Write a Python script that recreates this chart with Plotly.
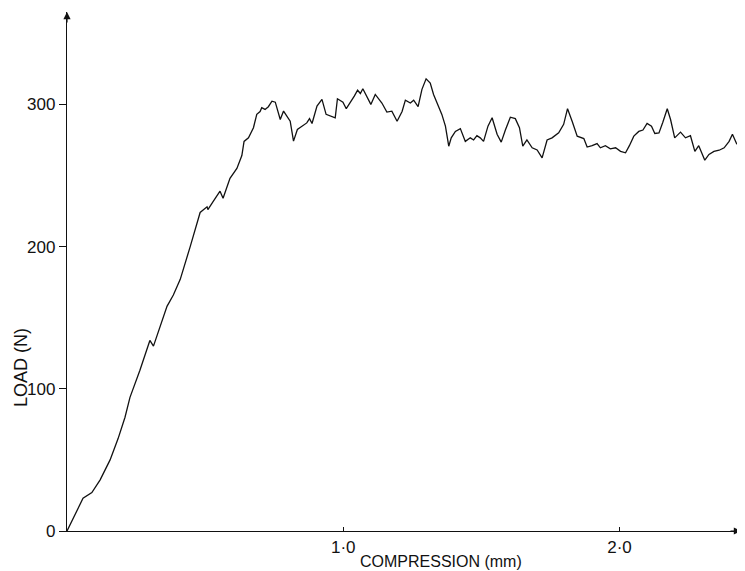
import plotly.graph_objects as go

compression_mm = [0, 0.03, 0.058, 0.09, 0.12, 0.156, 0.185, 0.21, 0.228, 0.264, 0.29, 0.30, 0.313,
                  0.335, 0.362, 0.385, 0.41, 0.446, 0.482, 0.507, 0.51, 0.53, 0.554, 0.565, 0.59,
                  0.615, 0.633, 0.641, 0.657, 0.675, 0.687, 0.699, 0.705, 0.717, 0.729, 0.742, 0.754,
                  0.772, 0.784, 0.808, 0.82, 0.834, 0.868, 0.878, 0.887, 0.905, 0.923, 0.938, 0.959,
                  0.971, 0.979, 0.999, 1.011, 1.025, 1.04, 1.052, 1.062, 1.071, 1.086, 1.1, 1.116,
                  1.14, 1.158, 1.176, 1.195, 1.213, 1.225, 1.243, 1.255, 1.271, 1.285, 1.3, 1.315,
                  1.327, 1.357, 1.37, 1.382, 1.391, 1.406, 1.424, 1.442, 1.46, 1.472, 1.484, 1.496,
                  1.508, 1.524, 1.539, 1.557, 1.572, 1.587, 1.605, 1.623, 1.638, 1.65, 1.665, 1.684,
                  1.702, 1.72, 1.738, 1.756, 1.78, 1.798, 1.812, 1.829, 1.847, 1.871, 1.883, 1.901,
                  1.919, 1.931, 1.949, 1.967, 1.986, 2.004, 2.022, 2.036, 2.052, 2.07, 2.085, 2.1,
                  2.116, 2.128, 2.143, 2.157, 2.173, 2.185, 2.2, 2.221, 2.239, 2.257, 2.273, 2.287,
                  2.309, 2.324, 2.342, 2.361, 2.379, 2.397, 2.409, 2.424, 2.438, 2.456]
load_n = [0, 12, 23, 27, 36, 50, 65, 80, 94, 113, 128, 134, 130,
          143, 158, 166, 177, 200, 224, 228, 226, 232, 239, 234, 248,
          255, 264, 274, 276.5, 283.6, 293, 295, 297.7, 296.5, 298.4, 302.3, 301.6,
          289.4, 295.3, 288.2, 274.2, 282.4, 287, 290, 286.6, 298.8, 303.5, 293, 291.4,
          290.6, 304, 301.6, 297, 301, 305.8, 310, 307.7, 311, 304.7, 300, 307,
          301, 294.6, 295.3, 288.2, 295, 303, 301, 303, 298.4, 310.6, 318, 315,
          307, 293, 284.7, 270.6, 276.5, 281, 283, 274, 276.5, 275, 278, 276.5,
          274, 284.7, 290.6, 279, 273.5, 282, 291, 290, 283.6, 270.6, 275, 269.5,
          268, 262.4, 275, 276.5, 280, 286, 297, 288, 277.7, 276, 270, 271,
          272.5, 269.5, 271, 268.8, 269.5, 267, 266, 271, 277.7, 281, 282, 286.6,
          284.7, 279.6, 280, 287.5, 297, 289.4, 276.5, 280.5, 276.5, 278, 267, 271,
          260.8, 264.8, 267, 267.8, 269.5, 274, 279, 272.5, 270, 270]

x_tick_vals = [1.0, 2.0]
x_tick_text = ["1·0", "2·0"]
y_tick_vals = [0, 100, 200, 300]
y_tick_text = ["0", "100", "200", "300"]

FONT = "Liberation Sans, Arial, sans-serif"

# the page body has an 8px margin, so the figure is drawn 8px right/down
W, H = 737, 563
ML, MR, MT, MB = 59, 4, 4, 40
PW, PH = W - ML - MR, H - MT - MB
PLOT_BOTTOM = H - MB

fig = go.Figure()
fig.add_trace(go.Scatter(x=compression_mm, y=load_n, mode="lines",
                         line=dict(color="#111", width=1.3), showlegend=False))

fig.update_layout(
    width=W, height=H,
    margin=dict(l=ML, r=MR, t=MT, b=MB),
    paper_bgcolor="white", plot_bgcolor="white",
    font=dict(family=FONT, size=17, color="#111"),
    xaxis=dict(range=[0, 2.44], showgrid=False, zeroline=False, showline=True,
               linecolor="#111", linewidth=1.3, ticks="inside", ticklen=4,
               tickcolor="#111", tickvals=x_tick_vals, ticktext=x_tick_text,
               automargin=False),
    yaxis=dict(range=[0, 365], showgrid=False, zeroline=False, showline=True,
               linecolor="#111", linewidth=1.3, ticks="outside", ticklen=7,
               tickcolor="#111", tickvals=y_tick_vals, ticktext=y_tick_text,
               automargin=False),
)

# axis arrowheads
fig.add_annotation(x=1, y=0, xref="paper", yref="paper", ax=-12, ay=0,
                   showarrow=True, arrowhead=2, arrowsize=1.2, arrowwidth=1.2,
                   arrowcolor="#111", text="")
fig.add_annotation(x=0, y=1, xref="paper", yref="paper", ax=0, ay=12,
                   showarrow=True, arrowhead=2, arrowsize=1.2, arrowwidth=1.2,
                   arrowcolor="#111", text="")

fig.add_annotation(text="COMPRESSION (mm)", x=(433 - ML) / PW, y=-(553 - PLOT_BOTTOM) / PH,
                   xref="paper", yref="paper", xanchor="center", yanchor="middle",
                   showarrow=False, font=dict(size=16))
fig.add_annotation(text="LOAD (N)", x=(13 - ML) / PW, y=(PLOT_BOTTOM - 360) / PH,
                   xref="paper", yref="paper", xanchor="center", yanchor="middle",
                   showarrow=False, textangle=-90, font=dict(size=18))

fig.write_html("out.html")
